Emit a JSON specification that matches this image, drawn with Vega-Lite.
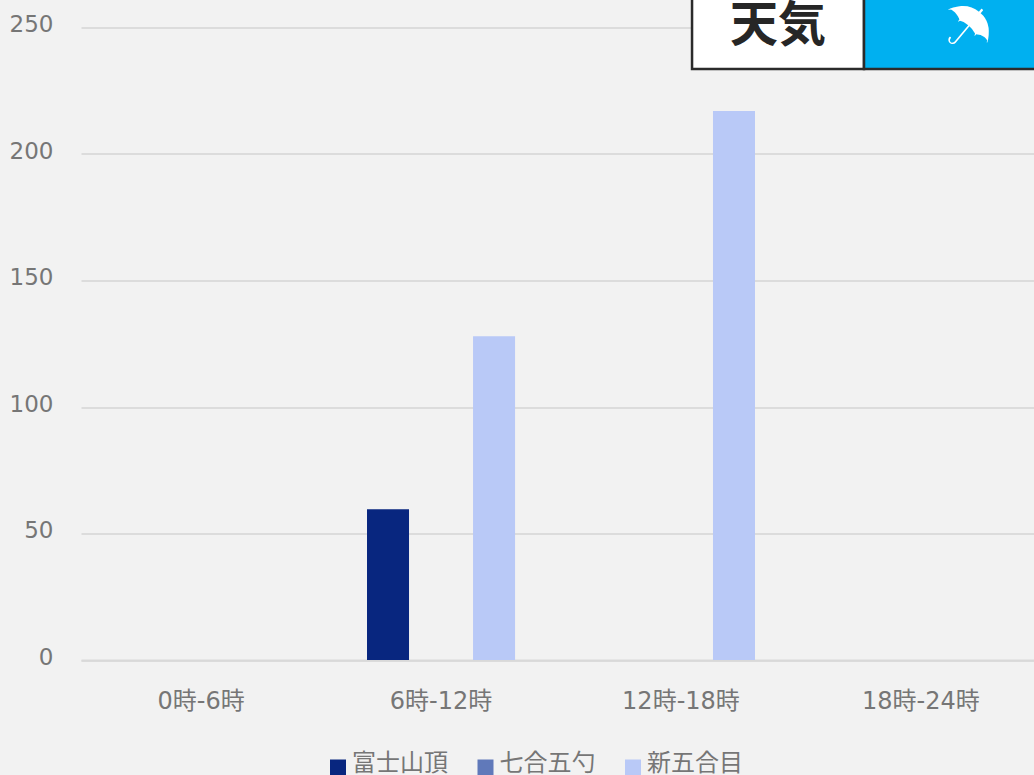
{
"$schema":"https://vega.github.io/schema/vega-lite/v6.json",
"width":953,"height":632.5,
"autosize":{"type":"none"},
"padding":{"left":81,"top":27.5,"right":0,"bottom":115},
"background":"#f2f2f2",
"config":{"view":{"stroke":null},"font":"DejaVu Sans, Noto Sans CJK JP"},
"datasets":{
"rain":[
{"t":"0時-6時","s":"富士山頂","v":0},{"t":"0時-6時","s":"七合五勺","v":0},{"t":"0時-6時","s":"新五合目","v":0},
{"t":"6時-12時","s":"富士山頂","v":59.6},{"t":"6時-12時","s":"七合五勺","v":0},{"t":"6時-12時","s":"新五合目","v":128},
{"t":"12時-18時","s":"富士山頂","v":0},{"t":"12時-18時","s":"七合五勺","v":0},{"t":"12時-18時","s":"新五合目","v":217},
{"t":"18時-24時","s":"富士山頂","v":0},{"t":"18時-24時","s":"七合五勺","v":0},{"t":"18時-24時","s":"新五合目","v":0}],
"panel":[
{"label":"天気","a":2.546,"b":3.2625,"c":2.904,"lo":233.6,"hi":262,"mid":250.2,"fill":"#ffffff"},
{"label":"☂","a":3.2625,"b":4.1,"c":3.68,"lo":233.6,"hi":262,"mid":249,"fill":"#00b0f0"}]
},
"layer":[
{"data":{"name":"rain"},
 "mark":{"type":"bar"},
 "encoding":{
  "x":{"field":"t","type":"nominal","sort":["0時-6時","6時-12時","12時-18時","18時-24時"],
   "scale":{"range":[0,960],"paddingInner":0.383,"paddingOuter":0.192},
   "axis":{"title":null,"labelAngle":0,"labelFontSize":24,"labelColor":"#767676","labelPadding":29,"ticks":false,"domainColor":"#d9d9d9","domainWidth":2,"grid":false,"labelFlush":false}},
  "xOffset":{"field":"s","type":"nominal","sort":["富士山頂","七合五勺","新五合目"],"scale":{"paddingInner":0.2075,"paddingOuter":0}},
  "y":{"field":"v","type":"quantitative","scale":{"domain":[0,250],"nice":false},
   "axis":{"title":null,"values":[0,50,100,150,200,250],"labelFontSize":23,"labelColor":"#767676","labelPadding":28,"labelOffset":-3,"ticks":false,"domain":false,"gridColor":"#dcdcdc","gridWidth":2,"labelFlush":false}},
  "color":{"field":"s","type":"nominal","sort":["富士山頂","七合五勺","新五合目"],
   "scale":{"domain":["富士山頂","七合五勺","新五合目"],"range":["#08267f","#6079ba","#b9c9f7"]},
   "legend":{"title":null,"orient":"none","direction":"horizontal","columns":3,"legendX":245,"legendY":728,"symbolType":"square","symbolSize":256,"symbolStrokeWidth":0,"labelFontSize":24,"labelColor":"#767676","columnPadding":25.5,"labelOffset":2,"symbolOpacity":1,"encoding":{"labels":{"dy":{"value":-4}}}}}
 }},
{"data":{"name":"panel"},
 "mark":{"type":"rect","stroke":"#2b2b2b","strokeWidth":2.5},
 "encoding":{
  "x":{"field":"a","type":"quantitative","scale":{"domain":[0,4],"range":[0,960],"nice":false,"zero":false},"axis":null},
  "x2":{"field":"b"},
  "y":{"field":"lo","type":"quantitative"},
  "y2":{"field":"hi"},
  "fill":{"field":"fill","type":"nominal","scale":null}
 }},
{"data":{"name":"panel"},
 "transform":[{"filter":"datum.label==='天気'"}],
 "mark":{"type":"text","fontSize":48,"fontWeight":"bold","color":"#262626","font":"Noto Sans CJK JP"},
 "encoding":{
  "x":{"field":"c","type":"quantitative","scale":{"domain":[0,4],"range":[0,960],"nice":false,"zero":false},"axis":null},
  "y":{"field":"mid","type":"quantitative"},
  "text":{"field":"label"}
 }},
{"data":{"name":"panel"},
 "transform":[{"filter":"datum.label==='☂'"}],
 "mark":{"type":"text","fontSize":64,"angle":40,"color":"#ffffff","font":"DejaVu Sans"},
 "encoding":{
  "x":{"field":"c","type":"quantitative","scale":{"domain":[0,4],"range":[0,960],"nice":false,"zero":false},"axis":null},
  "y":{"field":"mid","type":"quantitative"},
  "text":{"field":"label"}
 }}
],
"resolve":{"scale":{"x":"independent"},"axis":{"x":"independent"}}
}
